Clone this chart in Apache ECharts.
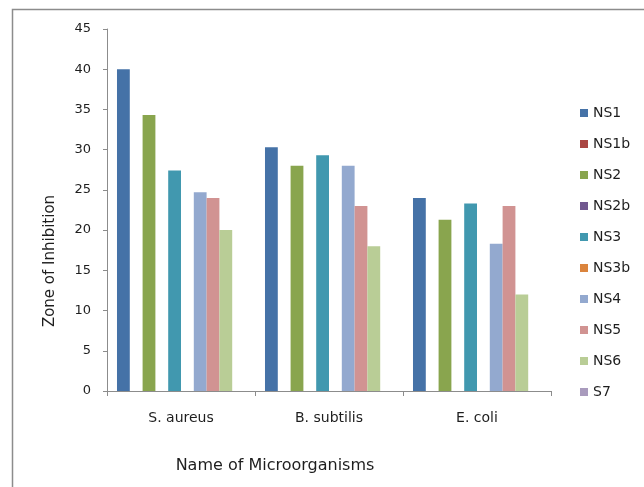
<!DOCTYPE html>
<html>
<head>
<meta charset="utf-8">
<script src="https://cdn.jsdelivr.net/npm/echarts@6/dist/echarts.min.js"></script>
<style>
  html, body { margin: 0; padding: 0; background: #fff; }
  #chart { width: 644px; height: 487px; }
</style>
</head>
<body>
<div id="chart"></div>
<script>
// Zone of inhibition per microorganism for each sample
const categories = ['S. aureus', 'B. subtilis', 'E. coli'];
const seriesNames = ['NS1', 'NS1b', 'NS2', 'NS2b', 'NS3', 'NS3b', 'NS4', 'NS5', 'NS6', 'S7'];
const NS1  = [40.0, 30.3, 24.0];
const NS1b = ['-', '-', '-'];
const NS2  = [34.3, 28.0, 21.3];
const NS2b = ['-', '-', '-'];
const NS3  = [27.4, 29.3, 23.3];
const NS3b = ['-', '-', '-'];
const NS4  = [24.7, 28.0, 18.3];
const NS5  = [24.0, 23.0, 23.0];
const NS6  = [20.0, 18.0, 12.0];
const S7   = ['-', '-', '-'];
const seriesValues = [NS1, NS1b, NS2, NS2b, NS3, NS3b, NS4, NS5, NS6, S7];
const yTicks = [0, 5, 10, 15, 20, 25, 30, 35, 40, 45];
const xTitle = 'Name of Microorganisms';
const yTitle = 'Zone of Inhibition';

const colors = ['#4572A7', '#AA4643', '#89A54E', '#71588F', '#4198AF',
                '#DB843D', '#93A9CF', '#D19392', '#B9CD96', '#A99BBD'];
const font = '"DejaVu Sans", sans-serif';
const ink = '#1e1e1e';

const chart = echarts.init(document.getElementById('chart'));
chart.setOption({
  animation: false,
  color: colors,
  textStyle: { fontFamily: font, color: ink },
  graphic: [
    {
      type: 'rect',
      shape: { x: 12.5, y: 9.5, width: 700, height: 600 },
      style: { fill: 'none', stroke: '#8c8c8c', lineWidth: 1.5 },
      silent: true
    },
    {
      type: 'text',
      x: 275, y: 466,
      style: { text: xTitle, font: '16px ' + font, fill: ink, align: 'center', verticalAlign: 'middle' },
      silent: true
    },
    {
      type: 'text',
      x: 50, y: 261,
      rotation: Math.PI / 2,
      style: { text: yTitle, font: '15px ' + font, fill: ink, align: 'center', verticalAlign: 'middle' },
      silent: true
    }
  ],
  grid: { left: 107, right: 93, top: 29, bottom: 96 },
  legend: {
    orient: 'vertical',
    left: 580,
    top: 105,
    padding: 0,
    itemWidth: 8,
    itemHeight: 8,
    itemGap: 15,
    icon: 'rect',
    data: seriesNames,
    textStyle: { fontFamily: font, fontSize: 14, color: ink, lineHeight: 16 }
  },
  xAxis: {
    type: 'category',
    data: categories,
    axisLine: { lineStyle: { color: '#8c8c8c', width: 1 } },
    axisTick: { show: true, length: 5, lineStyle: { color: '#8c8c8c' } },
    axisLabel: { fontFamily: font, fontSize: 14, color: ink, margin: 20 }
  },
  yAxis: {
    type: 'value',
    min: yTicks[0],
    max: yTicks[yTicks.length - 1],
    interval: 5,
    axisLine: { show: true, lineStyle: { color: '#8c8c8c', width: 1 } },
    axisTick: { show: true, length: 4, lineStyle: { color: '#8c8c8c' } },
    axisLabel: { fontFamily: font, fontSize: 13, color: ink, margin: 16 },
    splitLine: { show: false }
  },
  series: seriesNames.map((name, i) => ({
    name: name,
    type: 'bar',
    data: seriesValues[i],
    barGap: '0%',
    barCategoryGap: '13.5%'
  }))
});
</script>
</body>
</html>
